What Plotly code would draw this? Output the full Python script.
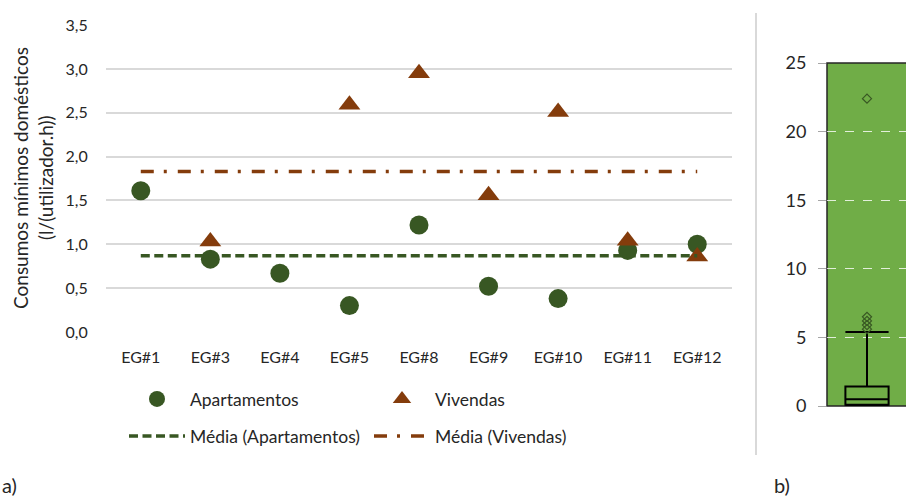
import plotly.graph_objects as go

# ---------------- data ----------------
categories = ["EG#1", "EG#3", "EG#4", "EG#5", "EG#8", "EG#9", "EG#10", "EG#11", "EG#12"]
apartamentos = [1.61, 0.83, 0.67, 0.30, 1.22, 0.52, 0.38, 0.93, 1.00]
vivendas = [None, 1.03, None, 2.59, 2.95, 1.56, 2.51, 1.04, 0.86]
media_apartamentos = 0.87
media_vivendas = 1.83

y_ticks_a = [0.0, 0.5, 1.0, 1.5, 2.0, 2.5, 3.0, 3.5]

box_q1 = 0.1
box_median = 0.49
box_q3 = 1.42
box_lower = 0.0
box_upper = 5.4
box_outliers = [5.6, 5.9, 6.2, 6.5, 22.4]
y_ticks_b = [0, 5, 10, 15, 20, 25]

# ---------------- style ----------------
W, H = 906, 496
FONT = "Lato"
GREEN = "#385723"
BROWN = "#843C0C"
BOXGREEN = "#70AD47"
GRID = "#D9D9D9"
TXT = "#262626"

def px(x):
    return x / W

def py(y):
    return 1 - y / H

fig = go.Figure()

fig.add_trace(go.Scatter(
    x=categories, y=apartamentos, mode="markers", name="Apartamentos",
    marker=dict(symbol="circle", size=19, color=GREEN),
    xaxis="x", yaxis="y", legend="legend"))
fig.add_trace(go.Scatter(
    x=categories, y=vivendas, mode="markers", name="Vivendas",
    marker=dict(symbol="triangle-up", size=19, color=BROWN),
    xaxis="x", yaxis="y", legend="legend2"))
fig.add_trace(go.Scatter(
    x=categories, y=[media_apartamentos] * len(categories), mode="lines",
    name="Média (Apartamentos)",
    line=dict(color=GREEN, width=3.5, dash="9px,4.5px"),
    xaxis="x", yaxis="y", legend="legend3"))
fig.add_trace(go.Scatter(
    x=categories, y=[media_vivendas] * len(categories), mode="lines",
    name="Média (Vivendas)",
    line=dict(color=BROWN, width=3.5, dash="13px,10px,3px,11px"),
    xaxis="x", yaxis="y", legend="legend4"))

# box plot panel
fig.add_trace(go.Box(
    x=[0], q1=[box_q1], median=[box_median], q3=[box_q3],
    lowerfence=[box_lower], upperfence=[box_upper],
    width=0.54, whiskerwidth=1,
    line=dict(color="black", width=2), fillcolor="rgba(0,0,0,0)",
    boxpoints=False, showlegend=False, xaxis="x2", yaxis="y2", hoverinfo="skip"))
fig.add_trace(go.Scatter(
    x=[0] * len(box_outliers), y=box_outliers, mode="markers",
    marker=dict(symbol="diamond-open", size=7, color=GREEN, line=dict(width=1.2)),
    showlegend=False, xaxis="x2", yaxis="y2", hoverinfo="skip"))

leg_common = dict(xanchor="left", yanchor="middle", itemwidth=56,
                  bgcolor="rgba(0,0,0,0)", font=dict(family=FONT, size=17.5, color=TXT),
                  orientation="v")

fig.update_layout(
    width=W, height=H,
    margin=dict(l=0, r=0, t=0, b=0, autoexpand=False),
    paper_bgcolor="white", plot_bgcolor="rgba(0,0,0,0)",
    separators=", ",
    font=dict(family=FONT, size=16, color=TXT),
    xaxis=dict(domain=[px(106), px(732)], anchor="y", type="category",
               categoryorder="array", categoryarray=categories,
               range=[-0.5, len(categories) - 0.5],
               showgrid=False, showline=False, zeroline=False,
               ticks="outside", ticklen=11, tickcolor="rgba(0,0,0,0)",
               tickfont=dict(family=FONT, size=16, color=TXT)),
    yaxis=dict(domain=[py(332), py(25)], anchor="x", range=[-0.001, 3.501],
               tickvals=y_ticks_a, tickformat=".1f",
               showgrid=True, gridcolor=GRID, gridwidth=1.5,
               zeroline=False, showline=False,
               ticks="outside", ticklen=14, tickcolor="rgba(0,0,0,0)",
               tickfont=dict(family=FONT, size=16, color=TXT)),
    xaxis2=dict(domain=[px(827), 1.0], anchor="y2", range=[-0.5, 0.4875],
                showgrid=False, showline=False, zeroline=False,
                showticklabels=False, ticks=""),
    yaxis2=dict(domain=[py(406), py(63)], anchor="x2", range=[0, 25],
                tickvals=y_ticks_b, showgrid=True, gridcolor="rgba(255,255,255,0.8)",
                gridwidth=1, griddash="dash", zeroline=False, showline=False,
                ticks="outside", ticklen=8, tickcolor="#A6A6A6", tickwidth=1,
                ticklabelstandoff=8,
                tickfont=dict(family=FONT, size=18, color=TXT)),
    legend=dict(x=px(124), y=py(399), **leg_common),
    legend2=dict(x=px(369), y=py(399), **leg_common),
    legend3=dict(x=px(124), y=py(436), **leg_common),
    legend4=dict(x=px(369), y=py(436), **leg_common),
    shapes=[
        dict(type="rect", xref="paper", yref="paper",
             x0=px(827), x1=1.05, y0=py(406), y1=py(63),
             fillcolor=BOXGREEN, line=dict(color="#262626", width=1.5), layer="below"),
        dict(type="line", xref="paper", yref="paper",
             x0=px(756), x1=px(756), y0=py(13), y1=py(455),
             line=dict(color=GRID, width=2)),
    ],
    annotations=[
        dict(text="Consumos mínimos domésticos", xref="paper", yref="paper",
             x=px(20), y=py(178), textangle=-90, showarrow=False,
             xanchor="center", yanchor="middle",
             font=dict(family=FONT, size=19, color=TXT)),
        dict(text="(l/(utilizador.h))", xref="paper", yref="paper",
             x=px(45), y=py(178), textangle=-90, showarrow=False,
             xanchor="center", yanchor="middle",
             font=dict(family=FONT, size=19, color=TXT)),
        dict(text="a)", xref="paper", yref="paper", x=px(0), y=py(485),
             xanchor="left", yanchor="middle", showarrow=False,
             font=dict(family=FONT, size=20, color=TXT)),
        dict(text="b)", xref="paper", yref="paper", x=px(772), y=py(485),
             xanchor="left", yanchor="middle", showarrow=False,
             font=dict(family=FONT, size=20, color=TXT)),
    ],
)

fig.write_html("out.html", config={"displayModeBar": False},
               post_script="document.body.style.margin='0px';document.body.style.overflow='hidden';")
